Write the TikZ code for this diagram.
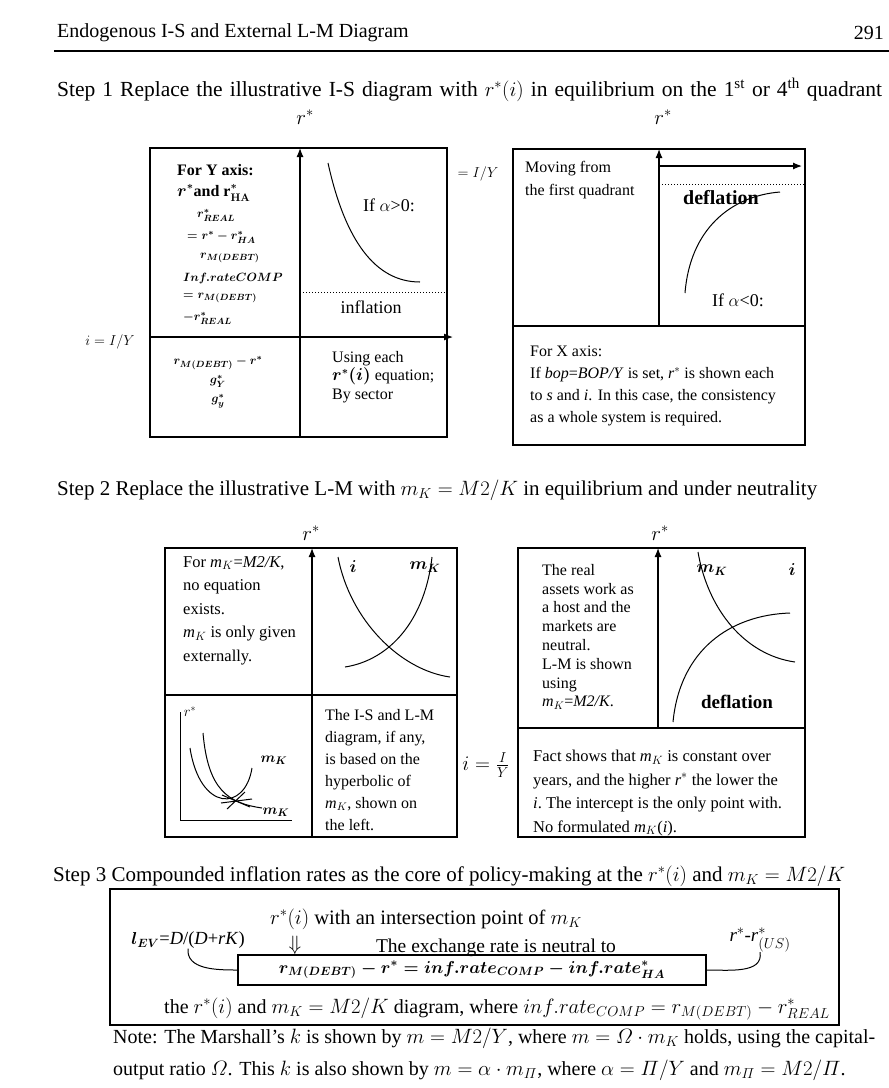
\documentclass[tikz,border=0pt]{standalone}
\usepackage{amsmath}
\usepackage{fontspec}
\setmainfont{Liberation Serif}
\usetikzlibrary{arrows.meta}

\newcommand{\stepfont}{\fontsize{21}{25}\selectfont}
\newcommand{\cellfont}{\fontsize{16}{22}\selectfont}
\newcommand{\listfont}{\fontsize{12.5}{15}\selectfont}

\begin{document}
\begin{tikzpicture}[x=1pt, y=-1pt,
    boxline/.style={draw, line width=1.2pt},
    axisarrow/.style={line width=1.2pt, -{Latex[length=9pt, width=7pt]}},
    curve/.style={line width=1pt},
    dotline/.style={line width=1pt, dotted},
    txt/.style={anchor=west, inner sep=0pt, font=\cellfont},
    para/.style={anchor=north west, inner sep=0pt, align=left, font=\cellfont},
    lbl/.style={inner sep=0pt, font=\cellfont},
    axlbl/.style={inner sep=0pt, font=\fontsize{20.74}{24}\selectfont},
    head/.style={anchor=west, inner sep=0pt, font=\stepfont}]

    % Page and running head
    \fill[white] (0,0) rectangle (889,1088);
    \useasboundingbox (0,0) rectangle (889,1088);
    \node[head, font=\fontsize{20}{24}\selectfont] (title) at (57,33) {Endogenous I-S and External L-M Diagram};
    \node[anchor=east, inner sep=0pt, font=\fontsize{20}{24}\selectfont] (pageno) at (884,33) {291};
    \draw[line width=2.5pt] (54,51) -- (889,51);

    % Step 1
    \node[head, font=\fontsize{21.5}{25}\selectfont] (step1) at (57,90) {\makebox[825pt][s]{Step 1 Replace the illustrative I-S diagram with $r^*(i)$ in equilibrium on the 1\textsuperscript{st} or 4\textsuperscript{th} quadrant}};

    % Step 1, left diagram
    \draw[boxline] (150,148) rectangle (447,437);
    \draw[axisarrow] (300,437) -- (300,148);
    \draw[axisarrow] (150,337) -- (453,337);
    \draw[dotline] (300,292) -- (447,292);
    \draw[curve] (328,163) .. controls (345,240) and (375,282) .. (420,282);
    \node[axlbl] (rA) at (305,117) {$r^*$};
    \node[lbl, font=\fontsize{18}{22}\selectfont] (alphaA) at (389,205) {If $\alpha$>0:};
    \node[lbl, font=\fontsize{15}{18}\selectfont] (iyA) at (478,174) {$= I/Y$};
    \node[lbl, font=\fontsize{18}{22}\selectfont] (inflA) at (371,307) {inflation};
    \node[lbl, font=\fontsize{15}{18}\selectfont] (iyB) at (110,342) {$i = I/Y$};
    \node[txt, font=\cellfont\bfseries] (yaxis) at (177,170) {For Y axis:};
    \node[txt] (yline1) at (177,193) {{\boldmath$r^*$}\textbf{and r}{\boldmath$^*_{\mathbf{HA}}$}};
    \node[txt, font=\listfont] (yline2) at (197,215) {{\boldmath$r^*_{REAL}$}};
    \node[txt, font=\listfont] (yline3) at (187,237) {{\boldmath$= r^* - r^*_{HA}$}};
    \node[txt, font=\listfont] (yline4) at (200,258) {{\boldmath$r_{M(DEBT)}$}};
    \node[txt, font=\listfont] (yline5) at (183,278) {{\boldmath$Inf.rateCOMP$}};
    \node[txt, font=\listfont] (yline6) at (183,298) {{\boldmath$= r_{M(DEBT)}$}};
    \node[txt, font=\listfont] (yline7) at (183,318) {{\boldmath$- r^*_{REAL}$}};
    \node[lbl, font=\listfont] (gapA) at (218,363) {{\boldmath$r_{M(DEBT)} - r^*$}};
    \node[lbl, font=\fontsize{13}{16}\selectfont] (gY) at (218,381) {{\boldmath$g^*_Y$}};
    \node[lbl, font=\fontsize{13}{16}\selectfont] (gy) at (218,401) {{\boldmath$g^*_y$}};
    \node[para, font=\fontsize{16}{18.5}\selectfont] (usingA) at (332,351) {Using each\\{\boldmath$r^*(i)$} equation;\\By sector};

    % Step 1, right diagram
    \draw[boxline] (513,149) rectangle (805,445);
    \draw[boxline] (513,326) -- (805,326);
    \draw[axisarrow] (659,326) -- (659,149);
    \draw[axisarrow] (659,166) -- (802,166);
    \draw[dotline] (662,184) -- (805,184);
    \draw[curve] (685,293) .. controls (690,230) and (730,196) .. (780,192);
    \node[axlbl] (rB) at (663,117) {$r^*$};
    \node[para, font=\fontsize{16}{23}\selectfont] (movefrom) at (525,161) {Moving from\\the first quadrant};
    \node[lbl, font=\fontsize{20}{24}\selectfont\bfseries] (deflA) at (721,198) {deflation};
    \node[lbl, font=\fontsize{18}{22}\selectfont] (alphaB) at (738,300) {If $\alpha$<0:};
    \node[para] (xaxis) at (530,346) {For X axis:\\If \textit{bop}=\textit{BOP/Y} is set, \textit{r}$^*$ is shown each\\to \textit{s} and \textit{i}. In this case, the consistency\\as a whole system is required.};

    % Step 2
    \node[head] (step2) at (57,490) {Step 2 Replace the illustrative L-M with $m_K = M2/K$ in equilibrium and under neutrality};

    % Step 2, left diagram
    \draw[boxline] (165,548) rectangle (457,837);
    \draw[boxline] (165,695) -- (457,695);
    \draw[axisarrow] (312,837) -- (312,548);
    \draw[curve] (338,557) .. controls (350,620) and (400,670) .. (450,677);
    \draw[curve] (345,667) .. controls (390,660) and (425,620) .. (432,557);
    \node[axlbl] (rC) at (311,533) {$r^*$};
    \node[lbl, font=\fontsize{17}{20}\selectfont] (iC) at (353,567) {{\boldmath$i$}};
    \node[lbl, font=\fontsize{17}{20}\selectfont] (mC) at (425,567) {{\boldmath$m_K$}};
    \node[para, font=\fontsize{16.5}{23.5}\selectfont] (noeq) at (183,556) {For \textit{m}$_K$=\textit{M2/K},\\no equation\\exists.\\\textit{m}$_K$ is only given\\externally.};
    % small hyperbolic sketch
    \draw[curve] (180,712) -- (180,820) -- (292,820);
    \draw[curve] (203,733) .. controls (208,790) and (228,803) .. (262,808);
    \draw[curve] (190,748) .. controls (200,812) and (245,812) .. (252,768);
    \draw[curve] (222,795) -- (250,807);
    \draw[curve] (227,809) -- (245,792);
    \draw[curve] (221,803) -- (252,799);
    \node[lbl, font=\fontsize{14}{16}\selectfont] (rE) at (190,712) {$r^*$};
    \node[lbl, font=\fontsize{15}{18}\selectfont] (mE) at (274,760) {{\boldmath$m_K$}};
    \node[lbl, font=\fontsize{15}{18}\selectfont] (mF) at (276,812) {{\boldmath$m_K$}};
    \node[para, font=\fontsize{16}{22}\selectfont] (isbased) at (325,709) {The I-S and L-M\\diagram, if any,\\is based on the\\hyperbolic of\\\textit{m}$_K$, shown on\\the left.};

    \node[lbl, font=\fontsize{21}{25}\selectfont] (iyC) at (486,765) {$i = \frac{I}{Y}$};

    % Step 2, right diagram
    \draw[boxline] (518,548) rectangle (805,837);
    \draw[boxline] (518,728) -- (805,728);
    \draw[axisarrow] (658,728) -- (658,548);
    \draw[curve] (698,552) .. controls (708,610) and (745,655) .. (795,662);
    \draw[curve] (673,722) .. controls (680,650) and (730,615) .. (790,613);
    \node[axlbl] (rD) at (660,533) {$r^*$};
    \node[lbl, font=\fontsize{17}{20}\selectfont] (mD) at (712,570) {{\boldmath$m_K$}};
    \node[lbl, font=\fontsize{17}{20}\selectfont] (iD) at (792,570) {{\boldmath$i$}};
    \node[lbl, font=\fontsize{19}{22}\selectfont\bfseries] (deflB) at (737,702) {deflation};
    \node[para, font=\fontsize{16}{18.8}\selectfont] (realassets) at (542,564) {The real\\assets work as\\a host and the\\markets are\\neutral.\\L-M is shown\\using\\\textit{m}$_K$=\textit{M2/K}.};
    \node[para, font=\fontsize{16.5}{23.5}\selectfont] (fact) at (533,750) {Fact shows that \textit{m}$_K$ is constant over\\years, and the higher \textit{r}$^*$ the lower the\\\textit{i}.\ The intercept is the only point with.\\No formulated \textit{m}$_K$(\textit{i}).};

    % Step 3
    \node[head] (step3) at (53,876) {Step 3 Compounded inflation rates as the core of policy-making at the $r^*(i)$ and $m_K = M2/K$};
    \draw[boxline] (110,889) rectangle (839,1025);
    \node[lbl, font=\fontsize{20.5}{24}\selectfont] (intsec) at (426,919) {$r^*(i)$ with an intersection point of $m_K$};
    \node[lbl, font=\fontsize{18.5}{22}\selectfont] (lev) at (188,940) {{\boldmath$l_{EV}$}=\textit{D}/(\textit{D}+\textit{rK})};
    \node[lbl, font=\fontsize{20.74}{24}\selectfont] (downarr) at (295,945) {$\Downarrow$};
    \node[lbl, font=\fontsize{19.5}{22}\selectfont] (neutral) at (496,948) {The exchange rate is neutral to};
    \node[draw, line width=1.2pt, minimum width=468pt, minimum height=30pt, inner sep=0pt,
        font=\fontsize{17}{20}\selectfont] (eqbox) at (472,970) {{\boldmath$r_{M(DEBT)} - r^* = inf.rate_{COMP} - inf.rate^*_{HA}$}};
    \node[lbl, font=\fontsize{19}{22}\selectfont] (rus) at (760,940) {\textit{r}$^*$-\textit{r}$^*_{(US)}$};
    \draw[curve] (lev.south) to[out=-95, in=180] (eqbox.west);
    \draw[curve] (eqbox.east) to[out=0, in=-80] (rus.south);
    \node[head, font=\fontsize{20}{24}\selectfont] (diagline) at (164,1009) {the $r^*(i)$ and $m_K = M2/K$ diagram, where $inf.rate_{COMP} = r_{M(DEBT)} - r^*_{REAL}$};

    % Note
    \node[head, font=\fontsize{20}{24}\selectfont] (note1) at (113,1038) {\makebox[762pt][s]{Note: The Marshall's $k$ is shown by $m = M2/Y$, where $m = \varOmega\cdot m_K$ holds, using the capital-}};
    \node[head, font=\fontsize{20}{24}\selectfont] (note2) at (113,1070) {output ratio $\varOmega$. This $k$ is also shown by $m = \alpha\cdot m_{\varPi}$, where $\alpha = \varPi/Y$ and $m_{\varPi} = M2/\varPi$.};

\end{tikzpicture}
\end{document}
